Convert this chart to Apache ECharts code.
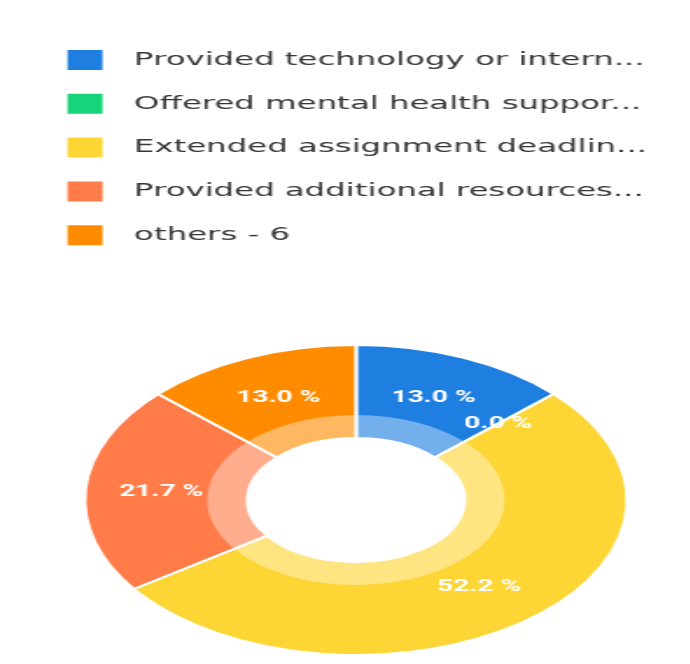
<!DOCTYPE html>
<html>
<head>
<meta charset="utf-8">
<script src="https://cdn.jsdelivr.net/npm/echarts@6/dist/echarts.min.js"></script>
<style>
  html, body { margin: 0; padding: 0; background: #ffffff; overflow: hidden; }
  /* The chart is laid out in a narrow box and widened horizontally. */
  #chart {
    width: 394px;
    height: 664px;
    transform: scaleX(1.75);
    transform-origin: 0 0;
  }
</style>
</head>
<body>
<div id="chart"></div>
<script>
// Answer categories as shown in the legend
const categories = [
  'Provided technology or intern...',
  'Offered mental health suppor...',
  'Extended assignment deadlin...',
  'Provided additional resources...',
  'others - 6'
];
// Share of responses, in percent
const percents = [13.0, 0.0, 52.2, 21.7, 13.0];

// Slice colours
const palette = ['#1e7fe0', '#17d37a', '#fdd535', '#ff7b48', '#ff8b00'];

const mainData = categories.map((name, i) => ({
  name: name,
  value: percents[i],
  itemStyle: { color: palette[i] }
}));
// Inner band: a translucent white veil laid over the same slices
const veilData = categories.map((name, i) => ({
  name: name,
  value: percents[i],
  itemStyle: { color: 'rgba(255,255,255,0.38)' }
}));

const chart = echarts.init(document.getElementById('chart'), null, { renderer: 'canvas' });
chart.setOption({
  backgroundColor: '#ffffff',
  animation: false,
  legend: {
    orient: 'vertical',
    left: 36.6,
    top: 48,
    padding: 0,
    icon: 'rect',
    itemWidth: 22,
    itemHeight: 22,
    itemGap: 19.8,
    data: categories,
    textStyle: {
      fontFamily: 'DejaVu Sans, sans-serif',
      fontSize: 18.5,
      lineHeight: 22,
      color: '#363636',
      padding: [0, 0, 0, 12]
    }
  },
  series: [
    {
      type: 'pie',
      center: [203.4, 500],
      radius: [62, 155],
      startAngle: 90,
      clockwise: true,
      itemStyle: { borderColor: '#ffffff', borderWidth: 2 },
      label: {
        show: true,
        position: 'inside',
        color: '#ffffff',
        fontFamily: 'Roboto, sans-serif',
        fontWeight: 'bold',
        fontSize: 16,
        formatter: p => p.value.toFixed(1) + ' %'
      },
      labelLine: { show: false },
      emphasis: { disabled: true },
      data: mainData
    },
    {
      type: 'pie',
      z: 3,
      silent: true,
      legendHoverLink: false,
      center: [203.4, 500],
      radius: [62, 85],
      startAngle: 90,
      clockwise: true,
      itemStyle: { borderWidth: 0 },
      label: { show: false },
      labelLine: { show: false },
      emphasis: { disabled: true },
      data: veilData
    }
  ]
});
</script>
</body>
</html>
